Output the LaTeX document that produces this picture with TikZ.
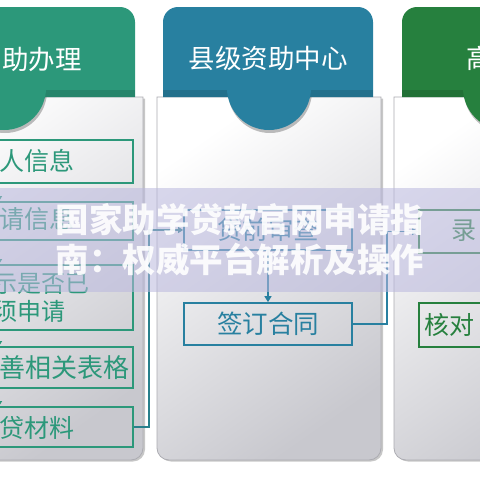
\documentclass[tikz,border=0pt]{standalone}
\usepackage{fontspec}
\setmainfont{Noto Sans CJK SC}
\usetikzlibrary{arrows.meta,shadows}
\definecolor{zzgreen}{RGB}{44,152,122}
\definecolor{zzblue}{RGB}{40,128,160}
\definecolor{zzdark}{RGB}{38,128,62}
\definecolor{zzlink}{RGB}{40,128,140}
\definecolor{panelgrey}{RGB}{200,200,206}
\definecolor{panelline}{RGB}{172,172,178}
\definecolor{veil}{RGB}{186,184,222}
\tikzset{
  panel/.style={draw=panelline, line width=0.8pt, top color=white, bottom color=panelgrey,
                shading angle=35,
                drop shadow={shadow xshift=2pt, shadow yshift=-1.5pt, fill=black, opacity=0.22}},
  tabshade/.style={fill=black, opacity=0.25},
  hdrshade/.style={fill=black, opacity=0.12},
  hdrtext/.style={text=white, inner sep=0pt, font=\fontsize{26.5}{26.5}\selectfont},
  lbox/.style={draw=zzgreen, line width=1.7pt, inner sep=0pt, minimum width=199pt},
  mbox/.style={draw=zzblue,  line width=1.7pt, inner sep=0pt, minimum width=168pt,
               text=zzblue, font=\fontsize{25.5}{25.5}\selectfont},
  rbox/.style={draw=zzdark,  line width=1.7pt, inner sep=0pt, minimum width=172pt},
  ltext/.style={anchor=west, inner sep=0pt, text=zzgreen, font=\fontsize{25}{25}\selectfont},
  rtext/.style={anchor=west, inner sep=0pt, text=zzdark, font=\fontsize{25}{25}\selectfont},
  lstep/.style={-{Triangle[length=5pt, width=6pt]}, line width=1.3pt, zzgreen},
  leftlink/.style={-{Triangle[length=5pt, width=6pt]}, line width=1.4pt, zzlink},
  midlink/.style ={-{Triangle[length=6pt, width=7pt]}, line width=1.4pt, zzblue},
  marktext/.style={text=white, text opacity=0.9, inner sep=0pt, align=center,
                   font=\fontsize{33.5}{40}\selectfont\bfseries},
}

\begin{document}
\begin{tikzpicture}[x=1pt, y=-1pt]
  \clip (0,0) rectangle (480,480);
  \fill[white] (0,0) rectangle (480,480);

  % ---- left column: 助办理 ----------------------------------------------
  \begin{scope}[shift={(4,0)}]
    \path[panel] (-114,97) [rounded corners=12pt] -- (-114,460) -- (139,460)
                 [sharp corners] -- (139,97) -- cycle;
    \fill[zzgreen] (-109,97) [rounded corners=15pt] -- (-109,7) -- (131,7)
                 [sharp corners] -- (131,97) -- cycle;
    \fill[hdrshade] (-109,90) rectangle (131,97);
    \begin{scope}
      \clip (-60,97) rectangle (60,150);
      \fill[tabshade] (1,91) circle[radius=42];
    \end{scope}
    \fill[zzgreen] (0,88) circle[radius=42];
    \node[hdrtext, anchor=east] (lhead) at (78,59) {助办理};

    \foreach \n/\y/\h in {1/161.5/43, 2/221/38, 3/297.5/65, 4/367.5/41, 5/427/40} {
      \node[lbox, minimum height=\h pt] (l\n) at (29.5,\y) {};
    }
    \coordinate (lx) at (-5,0);
    \foreach \a/\b in {l1/l2, l2/l3, l3/l4, l4/l5} {
      \draw[lstep] (\a.south -| lx) -- (\b.north -| lx);
    }
    \node[ltext] (lt1) at (-5,161) {人信息};
    \node[ltext] (lt2) at (-5,219) {请信息};
    \node[ltext, align=left, font=\fontsize{24}{28}\selectfont] (lt3) at (-11,298) {示是否已\\须申请};
    \node[ltext, font=\fontsize{26}{26}\selectfont] (lt4) at (-5,368) {善相关表格};
    \node[ltext] (lt5) at (-5,428) {贷材料};
  \end{scope}

  % ---- middle column: 县级资助中心 ----------------------------------------
  \begin{scope}[shift={(269,0)}]
    \path[panel] (-112,97) [rounded corners=12pt] -- (-112,460) -- (112,460)
                 [sharp corners] -- (112,97) -- cycle;
    \fill[zzblue] (-106,97) [rounded corners=15pt] -- (-106,7) -- (104,7)
                 [sharp corners] -- (104,97) -- cycle;
    \fill[hdrshade] (-106,90) rectangle (104,97);
    \begin{scope}
      \clip (-60,97) rectangle (60,150);
      \fill[tabshade] (1,91) circle[radius=42];
    \end{scope}
    \fill[zzblue] (0,88) circle[radius=42];
    \node[hdrtext] (mhead) at (-1,58) {县级资助中心};

    \node[mbox, minimum height=40pt] (check) at (-1,230) {贷前审查};
    \node[mbox, minimum height=42pt] (sign)  at (-1,324) {签订合同};
  \end{scope}

  % ---- right column: 高 ----------------------------------------------------
  \begin{scope}[shift={(505,0)}]
    \path[panel] (-111,97) [rounded corners=12pt] -- (-111,460) -- (115,460)
                 [sharp corners] -- (115,97) -- cycle;
    \fill[zzdark] (-103,97) [rounded corners=15pt] -- (-103,7) -- (107,7)
                 [sharp corners] -- (107,97) -- cycle;
    \fill[hdrshade] (-103,90) rectangle (107,97);
    \begin{scope}
      \clip (-60,97) rectangle (60,150);
      \fill[tabshade] (1,91) circle[radius=42];
    \end{scope}
    \fill[zzdark] (0,88) circle[radius=42];
    \node[hdrtext, anchor=west] (rhead) at (-39,58) {高};

    \node[rbox, minimum height=43pt] (enter)  at (0,231.5) {};
    \node[rbox, minimum height=44pt] (verify) at (0,325) {};
    \node[rtext] (rt1) at (-54,231) {录};
    \node[rtext] (rt2) at (-81,325) {核对};
  \end{scope}

  % ---- connectors -----------------------------------------------------------
  \draw[leftlink] (l5.east) -- ++(15,0) |- (check.west);
  \draw[midlink] (check.south) -- (sign.north);
  \draw[midlink] (sign.east) -- ++(34,0) |- (enter.west);

  % ---- watermark band ------------------------------------------------------
  \fill[veil, fill opacity=0.55] (0,188) rectangle (480,292);
  \node[marktext] (mark) at (240,240) {国家助学贷款官网申请指\\南：权威平台解析及操作};
\end{tikzpicture}
\end{document}
